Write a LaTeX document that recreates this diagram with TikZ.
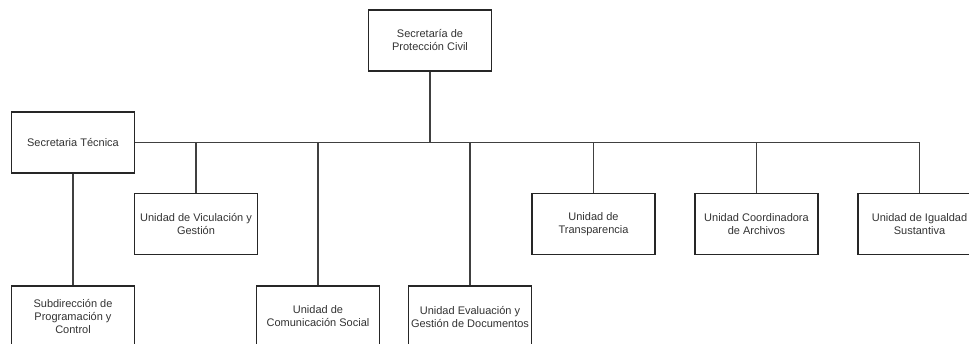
\documentclass[tikz,border=0pt]{standalone}
\usepackage{fontspec}
\setmainfont{Liberation Sans}
\begin{document}
\begin{tikzpicture}[x=0.75pt,y=-0.75pt,
  box/.style={draw=black!85,line width=0.8pt,fill=white,minimum width=92.25pt,minimum height=45.75pt,
    inner sep=0pt,align=center,text=black!80,font=\fontsize{8.25}{9.75}\selectfont},
  link/.style={draw=black!75,line width=0.8pt}]
\useasboundingbox (0,0) rectangle (969,343);
\clip (0,0) rectangle (969,343);
\node[box] (top) at (430,40.5) {Secretaría de\\Protección Civil};
\node[box] (st) at (73,142.5) {Secretaria Técnica};
\node[box] (uvg) at (196,224) {Unidad de Viculación y\\Gestión};
\node[box] (ut) at (593.5,224) {Unidad de\\Transparencia};
\node[box] (uca) at (756.5,224) {Unidad Coordinadora\\de Archivos};
\node[box] (uis) at (919.5,224) {Unidad de Igualdad\\Sustantiva};
\node[box] (spc) at (73,316.5) {Subdirección de\\Programación y\\Control};
\node[box] (ucs) at (318,316.5) {Unidad de\\Comunicación Social};
\node[box] (uegd) at (470,316.5) {Unidad Evaluación y\\Gestión de Documentos};
\draw[link] (st.east) -- (st.east -| uis.north);
\draw[link] (top.south) -- (top.south |- st.east);
\foreach \n in {uvg,ucs,uegd,ut,uca,uis}{
  \draw[link] (\n.north) -- (\n.north |- st.east);
}
\draw[link] (st.south) -- (spc.north);
\end{tikzpicture}
\end{document}
